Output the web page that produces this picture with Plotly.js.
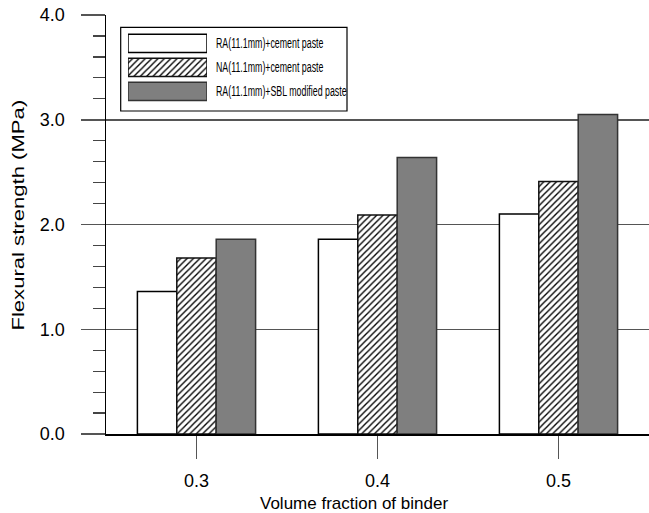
<!DOCTYPE html>
<html>
<head>
<meta charset="utf-8">
<script src="https://cdn.plot.ly/plotly-3.0.1.min.js"></script>
<style>html,body{margin:0;padding:0;background:#fff;}#chart{width:649px;height:513px;}</style>
</head>
<body>
<div id="chart"></div>
<script>
// ---- data ----
const categories = [0.3, 0.4, 0.5];
const tickLabels = ["0.3", "0.4", "0.5"];
const seriesNames = ["RA(11.1mm)+cement paste", "NA(11.1mm)+cement paste", "RA(11.1mm)+SBL modified paste"];
const raCement = [1.36, 1.86, 2.10];
const naCement = [1.68, 2.09, 2.41];
const raSBL = [1.86, 2.64, 3.05];
const yTicks = [0, 1, 2, 3, 4];

// ---- styles ----
const fills = ["#ffffff", "#ffffff", "#7f7f7f"];
const patterns = ["", "/", ""];
const lines = ["#000000", "#111111", "#333333"];
const seriesValues = [raCement, naCement, raSBL];
const FONT = "Liberation Sans, Arial, sans-serif";

function markerFor(i) {
  const m = {color: fills[i], line: {color: lines[i], width: 1.5}};
  if (patterns[i]) m.pattern = {shape: patterns[i], fgcolor: "#000", bgcolor: "#fff", size: 4.5, solidity: 0.3};
  return m;
}

const traces = seriesValues.map((vals, i) => ({
  type: "bar", x: categories, y: vals, name: seriesNames[i],
  showlegend: false, marker: markerFor(i), hoverinfo: "skip"
}));

// legend swatches drawn as horizontal bars on a small overlay axis
seriesNames.forEach((n, i) => {
  traces.push({
    type: "bar", orientation: "h", x: [1], y: [n],
    xaxis: "x2", yaxis: "y2", width: 0.76, offset: -0.38,
    showlegend: false, hoverinfo: "skip", marker: markerFor(i)
  });
});

const annotations = seriesNames.map((n) => ({
  text: n, xref: "paper", yref: "y2", x: (214 - 106) / 543, y: n,
  xanchor: "left", yanchor: "middle", align: "left", showarrow: false,
  font: {family: FONT, size: 14, color: "#000"}
}));
annotations.push({
  text: "Volume fraction of binder", xref: "paper", yref: "paper",
  x: (354 - 106) / 543, y: (434 - 503) / 419, xanchor: "center", yanchor: "middle",
  showarrow: false, font: {family: FONT, size: 17, color: "#000"}
});
annotations.push({
  text: "Flexural strength (MPa)", xref: "paper", yref: "paper",
  x: (18 - 106) / 543, y: (434 - 215) / 419, xanchor: "center", yanchor: "middle",
  textangle: -90, showarrow: false, font: {family: FONT, size: 17, color: "#000"}
});

const layout = {
  width: 649, height: 513,
  margin: {l: 106, r: 0, t: 15, b: 79, pad: 0},
  paper_bgcolor: "#fff", plot_bgcolor: "#fff",
  barmode: "group", bargap: 0.347, bargroupgap: 0,
  showlegend: false,
  font: {family: FONT, color: "#000"},
  xaxis: {
    range: [0.25, 0.55], tickvals: categories, ticktext: tickLabels,
    ticks: "outside", ticklen: 23, tickwidth: 1.5, tickcolor: "#555",
    showline: true, linecolor: "#000", linewidth: 1.5,
    showgrid: false, zeroline: false,
    tickfont: {family: FONT, size: 18, color: "#000"}, ticklabelstandoff: 7
  },
  yaxis: {
    range: [0, 4], tickvals: yTicks, tickformat: ".1f",
    ticks: "outside", ticklen: 24, tickwidth: 1.5, tickcolor: "#555",
    showline: true, linecolor: "#000", linewidth: 1.5,
    showgrid: true, gridcolor: "#555", gridwidth: 1.5, zeroline: false,
    tickfont: {family: FONT, size: 18, color: "#000"}, ticklabelstandoff: 12,
    minor: {dtick: 0.2, ticks: "outside", ticklen: 12, tickwidth: 1.2, tickcolor: "#444", showgrid: false}
  },
  xaxis2: {domain: [0.0405, 0.186], range: [0, 1], anchor: "y2", visible: false, fixedrange: true},
  yaxis2: {domain: [0.789, 0.961], anchor: "x2", type: "category", categoryarray: seriesNames,
           autorange: "reversed", visible: false, fixedrange: true},
  shapes: [{
    type: "rect", xref: "paper", yref: "paper",
    x0: (120.7 - 106) / 543, x1: (347 - 106) / 543,
    y0: (434 - 111) / 419, y1: (434 - 27.3) / 419,
    line: {color: "#000", width: 1.2}, fillcolor: "rgba(0,0,0,0)", layer: "below"
  }],
  annotations: annotations
};

// the reference uses a condensed face for the legend and a tall face for the y title
function fitText(idx, scale) {
  const t = document.querySelector('.annotation[data-index="' + idx + '"] text.annotation-text');
  if (!t || !t.getComputedTextLength) return;
  const w = t.getComputedTextLength();
  t.setAttribute("textLength", (w * scale).toFixed(1));
  t.setAttribute("lengthAdjust", "spacingAndGlyphs");
}

Plotly.newPlot("chart", traces, layout, {displayModeBar: false, staticPlot: true}).then(() => {
  fitText(0, 0.63); fitText(1, 0.63); fitText(2, 0.63);
  fitText(4, 1.3);
});
</script>
</body>
</html>
